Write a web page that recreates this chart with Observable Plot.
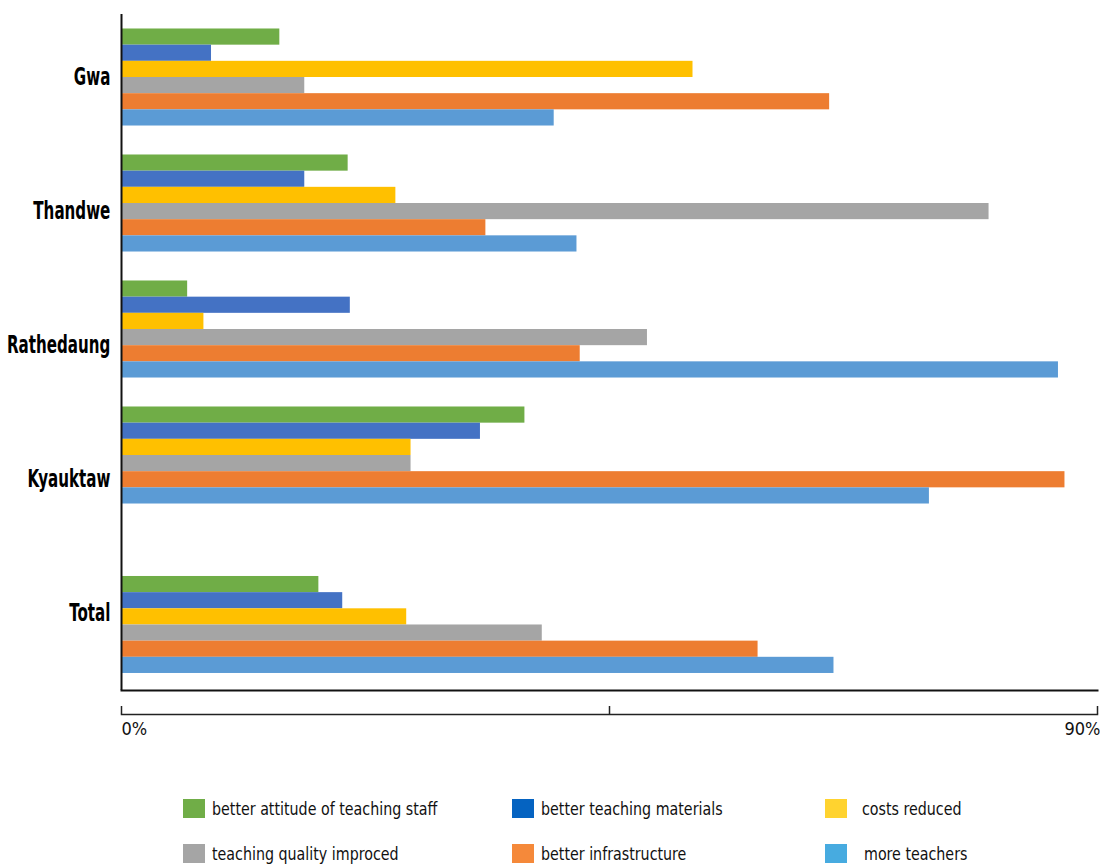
<!DOCTYPE html>
<html><head><meta charset="utf-8">
<script src="https://cdn.jsdelivr.net/npm/d3@7"></script>
<script src="https://cdn.jsdelivr.net/npm/@observablehq/plot@0.6"></script>
<style>
body{margin:0;background:#fff;}
#chart{position:relative;width:1100px;height:866px;overflow:hidden;font-family:"Liberation Sans Narrow","DejaVu Sans Condensed",sans-serif;}
#chart svg{display:block;overflow:visible;}
#labels{position:absolute;left:0;top:0;}
#labels svg{transform:scaleX(0.7);transform-origin:110px 0;}
.item{position:absolute;display:flex;align-items:center;font-size:18px;color:#111;white-space:nowrap;}
.item .tx{display:inline-block;transform:scaleX(0.88);transform-origin:0 50%;}
.sw{width:22px;height:19px;display:inline-block;}
</style></head><body>
<div id="chart"><div id="bars"></div><div id="labels"></div><div id="legend"></div></div>
<script>
const regions = ["Gwa", "Thandwe", "Rathedaung", "Kyauktaw", "Total"];
const seriesNames = ["better attitude of teaching staff", "better teaching materials", "costs reduced", "teaching quality improced", "better infrastructure", "more teachers"];
const attitude       = [14.6, 20.9,  6.1, 37.2, 18.2];
const materials      = [ 8.3, 16.9, 21.1, 33.1, 20.4];
const costs          = [52.7, 25.3,  7.6, 26.7, 26.3];
const quality        = [16.9, 80.0, 48.5, 26.7, 38.8];
const infrastructure = [65.3, 33.6, 42.3, 87.0, 58.7];
const teachers       = [39.9, 42.0, 86.4, 74.5, 65.7];
const xTicks = [0, 45, 90];
const xTickLabels = [0, 90];
const barColors = ["#70AD47", "#4472C4", "#FFC000", "#A5A5A5", "#ED7D31", "#5B9BD5"];
const legendColors = ["#70AD47", "#0563C1", "#FFD32F", "#A5A5A5", "#F5893A", "#47ABE0"];

const seriesValues = [attitude, materials, costs, quality, infrastructure, teachers];
const rows = [];
regions.forEach((r, i) => seriesNames.forEach((s, j) => rows.push({region: r, series: s, value: seriesValues[j][i]})));

const FONT = '"Liberation Sans Narrow","DejaVu Sans Condensed",sans-serif';
const common = {
  width: 1100, marginLeft: 121, marginRight: 3,
  x: {domain: [0, 90], axis: null},
  color: {domain: seriesNames, range: barColors},
  style: {fontFamily: FONT, background: "transparent"}
};

const A = Plot.plot({
  ...common, height: 518, marginTop: 14, marginBottom: 0,
  fy: {domain: regions.slice(0, 4), padding: 0, axis: null, round: false},
  y: {domain: seriesNames, paddingInner: 0, paddingOuter: 0.896, axis: null, round: false},
  marks: [
    Plot.barX(rows.filter(d => d.region !== "Total"), {fy: "region", y: "series", x: "value", fill: "series"}),
    Plot.ruleX([0], {stroke: "#111", strokeWidth: 2})
  ]
});

const B = Plot.plot({
  ...common, height: 174, marginTop: 0, marginBottom: 2,
  y: {domain: seriesNames, paddingInner: 0, paddingOuter: 2.32, align: 0.773, axis: null, round: false},
  marks: [
    Plot.barX(rows.filter(d => d.region === "Total"), {y: "series", x: "value", fill: "series"}),
    Plot.ruleX([0], {stroke: "#111", strokeWidth: 2}),
    Plot.frame({anchor: "bottom", stroke: "#111", strokeWidth: 2})
  ]
});

const C = Plot.plot({
  ...common, height: 62, marginTop: 14, marginBottom: 40,
  style: {fontFamily: FONT, fontSize: "18px", background: "transparent"},
  marks: [
    Plot.tickX(xTicks, {x: d => d, stroke: "#222", strokeWidth: 1.5}),
    Plot.frame({anchor: "bottom", stroke: "#222", strokeWidth: 1.5}),
    Plot.axisX(xTickLabels.slice(0, 1), {tickSize: 0, tickPadding: 8, textAnchor: "start", tickFormat: d => d + "%", label: null, fill: "#111"}),
    Plot.axisX(xTickLabels.slice(1), {tickSize: 0, tickPadding: 8, textAnchor: "end", dx: 3, tickFormat: d => d + "%", label: null, fill: "#111"})
  ]
});

const L = Plot.plot({
  width: 121, height: 680, marginTop: 10, marginBottom: 0, marginLeft: 121, marginRight: 0,
  y: {type: "band", domain: regions, padding: 0},
  style: {fontFamily: FONT, fontSize: "24px", fontWeight: "bold", background: "transparent"},
  marks: [Plot.axisY(regions, {tickSize: 0, tickPadding: 11, label: null, fill: "#000"})]
});

const bars = document.getElementById("bars");
bars.append(A, B, C);
document.getElementById("labels").append(L);

const legendPos = [[183, 798], [512, 798], [825, 798], [183, 843], [512, 843], [825, 843]];
const legendGap = [7, 7, 15, 7, 7, 17];
const legend = document.getElementById("legend");
seriesNames.forEach((s, i) => {
  const it = document.createElement("div");
  it.className = "item";
  it.style.left = legendPos[i][0] + "px";
  it.style.top = legendPos[i][1] + "px";
  it.innerHTML = `<span class="sw" style="background:${legendColors[i]};margin-right:${legendGap[i]}px"></span><span class="tx">${s}</span>`;
  legend.append(it);
});
</script>
</body></html>
